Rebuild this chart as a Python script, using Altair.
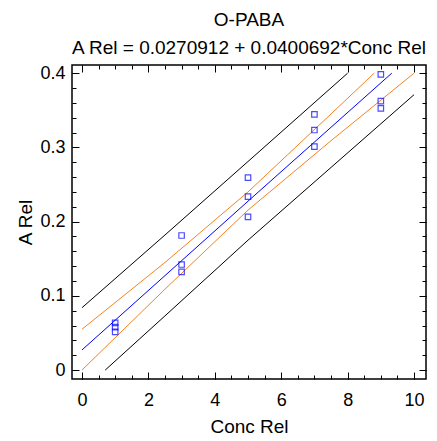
import altair as alt
import pandas as pd

# observed points
x_pts = [1, 1, 1, 3, 3, 3, 5, 5, 5, 7, 7, 7, 9, 9, 9]
y_pts = [0.0637, 0.0579, 0.0516, 0.1813, 0.1422, 0.1323, 0.2593, 0.2337, 0.2064,
         0.3445, 0.3234, 0.3010, 0.3984, 0.3624, 0.3526]

# fitted line and limits
fit_x = [0, 5, 9.33]
fit_y = [0.0271, 0.2275, 0.400]
cu_x = [0, 2.5, 5, 7.5, 8.8]
cu_y = [0.055, 0.145, 0.240, 0.345, 0.400]
cl_x = [0, 2.5, 5, 7.5, 10]
cl_y = [0.0, 0.109, 0.2155, 0.309, 0.400]
pu_x = [0, 2.5, 5, 8.0]
pu_y = [0.084, 0.182, 0.281, 0.400]
pl_x = [0.7, 2.5, 5, 7.5, 10]
pl_y = [0.0, 0.073, 0.175, 0.273, 0.371]

x_major = [0, 2, 4, 6, 8, 10]
x_minor = [v * 0.5 for v in range(0, 21)]
y_major = [0, 0.1, 0.2, 0.3, 0.4]
y_minor = [round(v * 0.02, 2) for v in range(0, 21)]

FONT = "Liberation Sans"
xs = alt.Scale(domain=[-0.3, 10.36], nice=False, zero=False)
ys = alt.Scale(domain=[-0.012, 0.411], nice=False, zero=False)

pts = pd.DataFrame({"x": x_pts, "y": y_pts})

def line_df(xv, yv):
    return pd.DataFrame({"x": xv, "y": yv})

def line_layer(xv, yv, color):
    return alt.Chart(line_df(xv, yv)).mark_line(color=color, strokeWidth=1).encode(
        x=alt.X("x:Q", scale=xs, axis=None),
        y=alt.Y("y:Q", scale=ys, axis=None),
    )

main = alt.Chart(pts).mark_point(shape="square", filled=False, color="#0000ff",
                                 size=30, strokeWidth=1.2).encode(
    x=alt.X("x:Q", scale=xs, axis=alt.Axis(
        orient="bottom", values=x_major, ticks=False, domain=False, grid=False,
        labelFont=FONT, labelFontSize=18, labelColor="black", labelPadding=12,
        title="Conc Rel", titleFont=FONT, titleFontSize=19, titleFontWeight="normal",
        titleColor="black", titlePadding=8)),
    y=alt.Y("y:Q", scale=ys, axis=alt.Axis(
        orient="left", values=y_major, format="~g", ticks=False, domain=False, grid=False,
        labelFont=FONT, labelFontSize=18, labelColor="black", labelPadding=7,
        title="A Rel", titleFont=FONT, titleFontSize=19, titleFontWeight="normal",
        titleColor="black", titlePadding=4)),
)

def tick_layer(xorient, yorient, xvals, yvals, size):
    return alt.Chart(pts).mark_point(opacity=0).encode(
        x=alt.X("x:Q", scale=xs, axis=alt.Axis(
            orient=xorient, values=xvals, tickSize=size, offset=-size, labels=False,
            domain=False, grid=False, title=None, tickColor="black", tickWidth=1)),
        y=alt.Y("y:Q", scale=ys, axis=alt.Axis(
            orient=yorient, values=yvals, tickSize=size, offset=-size, labels=False,
            domain=False, grid=False, title=None, tickColor="black", tickWidth=1)),
    )

layers = [
    line_layer(pu_x, pu_y, "black"),
    line_layer(pl_x, pl_y, "black"),
    line_layer(cu_x, cu_y, "#f5821f"),
    line_layer(cl_x, cl_y, "#f5821f"),
    line_layer(fit_x, fit_y, "#0000ff"),
    main,
    tick_layer("bottom", "left", x_major, y_major, 7),
    tick_layer("bottom", "left", x_minor, y_minor, 4),
    tick_layer("top", "right", x_major, y_major, 7),
    tick_layer("top", "right", x_minor, y_minor, 4),
]

chart = alt.layer(*layers).resolve_axis(x="independent", y="independent").properties(
    width=354, height=314,
    autosize=alt.AutoSizeParams(type="none"),
    padding={"left": 64, "top": 57, "right": 3, "bottom": 58},
    title=alt.TitleParams(
        text="O-PABA", subtitle="A Rel = 0.0270912 + 0.0400692*Conc Rel",
        font=FONT, subtitleFont=FONT, fontSize=19, subtitleFontSize=19,
        fontWeight="normal", color="black", subtitleColor="black",
        anchor="middle", offset=6, subtitlePadding=9),
).configure_view(stroke="black", strokeWidth=1.5)

chart.save("out.html", embed_options={"renderer": "svg", "actions": False})
